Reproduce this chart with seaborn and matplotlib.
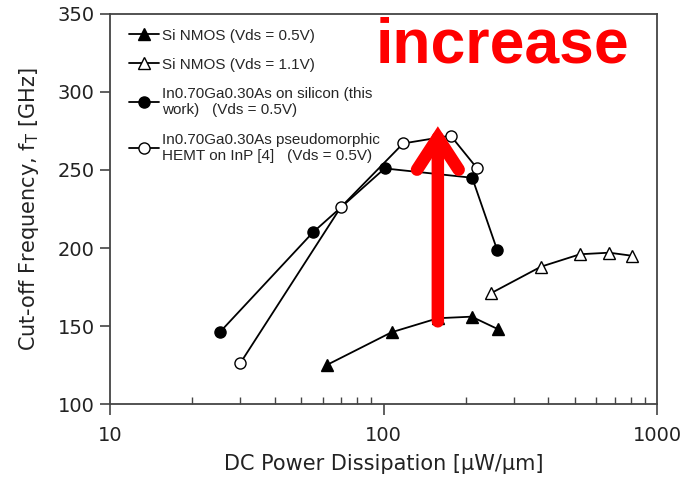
import matplotlib
matplotlib.use('Agg')
import matplotlib.pyplot as plt
import seaborn as sns

# fT vs DC power
si_05_power = [62, 107, 158, 210, 262]
si_05_ft = [125, 146, 155, 156, 148]

si_11_power = [247, 376, 523, 669, 812]
si_11_ft = [171, 188, 196, 197, 195]

ingaas_si_power = [25.2, 55.2, 101, 211, 260]
ingaas_si_ft = [146, 210, 251, 245, 199]

phemt_power = [29.9, 69.7, 118, 176, 220]
phemt_ft = [126, 226, 267, 272, 251]

labels = [
    "Si NMOS (Vds = 0.5V)",
    "Si NMOS (Vds = 1.1V)",
    "In0.70Ga0.30As on silicon (this\nwork)   (Vds = 0.5V)",
    "In0.70Ga0.30As pseudomorphic\nHEMT on InP [4]   (Vds = 0.5V)",
]

sns.set_style("ticks")
plt.rcParams['font.family'] = ['DejaVu Sans']

fig = plt.figure(figsize=(6.83, 4.97), dpi=100)
ax = fig.add_axes([0.161, 0.187, 0.801, 0.785])

common = dict(ax=ax, sort=False, color='black', linewidth=1.3, markersize=8,
              markeredgecolor='black', markeredgewidth=1.0)
sns.lineplot(x=si_05_power, y=si_05_ft, marker='^', markerfacecolor='black',
             label=labels[0], **common)
sns.lineplot(x=si_11_power, y=si_11_ft, marker='^', markerfacecolor='white',
             label=labels[1], **common)
sns.lineplot(x=ingaas_si_power, y=ingaas_si_ft, marker='o', markerfacecolor='black',
             label=labels[2], **common)
sns.lineplot(x=phemt_power, y=phemt_ft, marker='o', markerfacecolor='white',
             label=labels[3], **common)

ax.set_xscale('log')
ax.set_xlim(10, 1000)
ax.set_ylim(100, 350)
ax.set_yticks([100, 150, 200, 250, 300, 350])
ax.set_xticks([10, 100, 1000])
ax.set_xticklabels(['10', '100', '1000'])

for s in ax.spines.values():
    s.set_color('#444444')
    s.set_linewidth(1.3)
ax.tick_params(axis='both', which='major', direction='out', length=7, width=1.2,
               color='#444444', labelsize=14, pad=4, labelcolor='#222222')
ax.tick_params(axis='x', which='minor', direction='in', length=5, width=1.0,
               color='#444444')
ax.tick_params(axis='x', which='major', length=8, pad=8)

ax.set_xlabel('DC Power Dissipation [μW/μm]', fontsize=15, color='#222222', labelpad=6)
ax.set_ylabel('Cut-off Frequency, f$_\\mathregular{T}$ [GHz]', fontsize=15,
              color='#222222', labelpad=12)

leg = ax.legend(loc='upper left', bbox_to_anchor=(0.015, 0.99), frameon=False,
                prop={'family': 'Liberation Sans', 'size': 11},
                handlelength=2.0, handletextpad=0.15, labelspacing=1.0,
                borderaxespad=0.3)

# red arrow and text pasted on top of the chart
ax.annotate('', xy=(158, 278), xytext=(158, 153),
            arrowprops=dict(arrowstyle='->, head_length=2.3, head_width=1.5',
                            color='red', lw=9, mutation_scale=10,
                            shrinkA=0, shrinkB=0, capstyle='round',
                            joinstyle='miter'))
fig.text(0.736, 0.875, 'increase', color='red', fontsize=45, fontweight='bold',
         family='Liberation Sans', ha='center', va='baseline')

fig.savefig('out.png', dpi=100)
